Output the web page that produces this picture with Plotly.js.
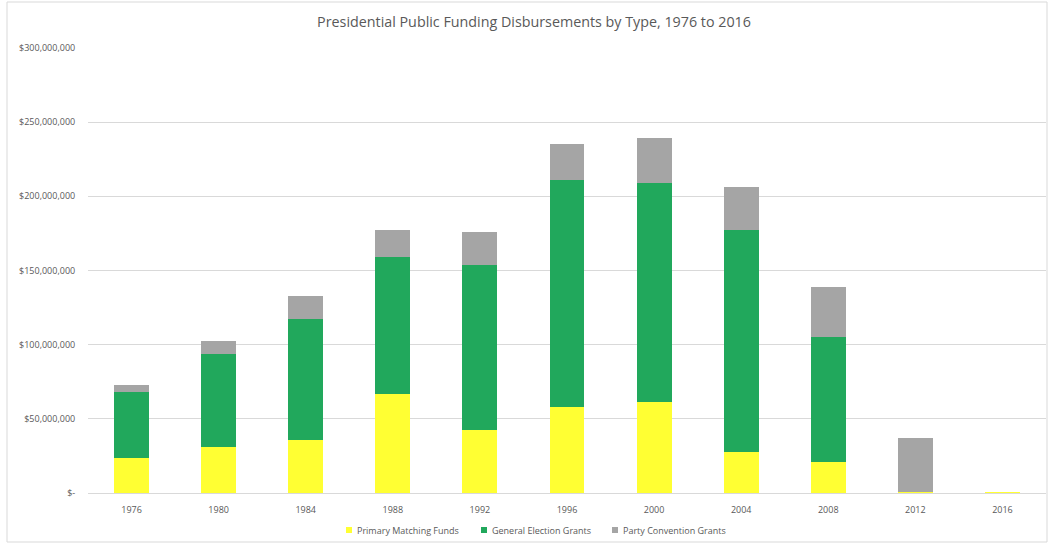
<!DOCTYPE html>
<html>
<head>
<meta charset="utf-8">
<script src="https://cdn.plot.ly/plotly-3.0.1.min.js"></script>
<style>html,body{margin:0;padding:0;background:#fff;}#chart{width:1049px;height:544px;}</style>
</head>
<body>
<div id="chart"></div>
<script>
// Values in millions of dollars
var years = ['1976','1980','1984','1988','1992','1996','2000','2004','2008','2012','2016'];
var primaryMatching = [23.9, 31.1, 36.0, 66.9, 42.8, 58.1, 61.2, 27.9, 20.7, 1.0, 1.0];
var generalElection = [43.9, 62.8, 81.1, 92.1, 110.6, 152.7, 148.0, 149.3, 84.2, 0, 0];
var partyConvention = [4.7, 8.8, 15.7, 18.4, 22.3, 24.5, 30.2, 29.3, 34.3, 36.4, 0];
var seriesNames = ['Primary Matching Funds', 'General Election Grants', 'Party Convention Grants'];
var seriesColors = ['#FFFF33', '#21A85C', '#A5A5A5'];
var yTickVals = [0, 50, 100, 150, 200, 250, 300];
var yTickText = ['$-', '$50,000,000', '$100,000,000', '$150,000,000', '$200,000,000', '$250,000,000', '$300,000,000'];

var toDollars = function (a) { return a.map(function (v) { return v * 1e6; }); };
var font = '"Open Sans", "Liberation Sans", sans-serif';
var seriesValues = [primaryMatching, generalElection, partyConvention];

var traces = seriesValues.map(function (vals, i) {
  return {type: 'bar', name: seriesNames[i], x: years, y: toDollars(vals),
          marker: {color: seriesColors[i]}};
});

// plot area geometry in pixels (for placing the legend / frame)
var L = 88, T = 48, W = 958, H = 445;
var px = function (x) { return (x - L) / W; };
var py = function (y) { return (T + H - y) / H; };

var legendSymbolX = [346, 481, 612];
var shapes = [{type: 'rect', xref: 'paper', yref: 'paper',
               x0: px(7), x1: px(1047), y0: py(542), y1: py(2),
               line: {color: '#D9D9D9', width: 1}, fillcolor: 'rgba(0,0,0,0)', layer: 'below'}];
var annotations = [];
seriesNames.forEach(function (name, i) {
  var sx = legendSymbolX[i];
  shapes.push({type: 'rect', xref: 'paper', yref: 'paper',
               x0: px(sx), x1: px(sx + 6), y0: py(533), y1: py(527),
               line: {width: 0}, fillcolor: seriesColors[i]});
  annotations.push({xref: 'paper', yref: 'paper', x: px(sx + 9), y: py(530),
                    xanchor: 'left', yanchor: 'middle', showarrow: false, text: name,
                    font: {family: font, size: 9, color: '#595959'}});
});

var layout = {
  width: 1049, height: 544,
  barmode: 'stack',
  bargap: 0.6,
  margin: {l: L, r: 1049 - L - W, t: T, b: 544 - T - H},
  paper_bgcolor: '#ffffff', plot_bgcolor: '#ffffff',
  font: {family: font, color: '#595959', size: 9},
  title: {text: 'Presidential Public Funding Disbursements by Type, 1976 to 2016',
          font: {family: font, size: 14.3, color: '#595959'},
          xref: 'paper', x: 0.4656, xanchor: 'center', y: 0.96, yanchor: 'middle'},
  xaxis: {type: 'category', showgrid: false, zeroline: false, showline: false,
          ticks: 'outside', ticklen: 8, tickcolor: 'rgba(0,0,0,0)',
          tickfont: {family: font, size: 9, color: '#595959'}},
  yaxis: {range: [0, 300e6], tickvals: toDollars(yTickVals), ticktext: yTickText,
          showgrid: true, gridcolor: '#D9D9D9', gridwidth: 1,
          zeroline: true, zerolinecolor: '#D9D9D9', zerolinewidth: 1, showline: false,
          ticks: 'outside', ticklen: 10, tickcolor: 'rgba(0,0,0,0)',
          tickfont: {family: font, size: 9, color: '#595959'}},
  showlegend: false,
  shapes: shapes,
  annotations: annotations
};

Plotly.newPlot('chart', traces, layout, {displayModeBar: false, staticPlot: true});
</script>
</body>
</html>
